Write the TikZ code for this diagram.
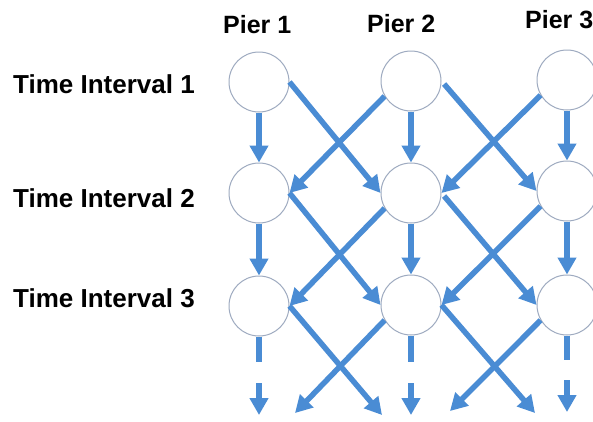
\documentclass[tikz,border=0pt]{standalone}
\usepackage{fontspec}
\setmainfont{Liberation Sans}
\usetikzlibrary{arrows.meta}
\definecolor{flowblue}{HTML}{4A8CD4}
\definecolor{ringgray}{HTML}{9EAAC0}
\tikzset{
  pier/.style={circle, draw=ringgray, line width=1pt, fill=white, minimum size=60pt, inner sep=0pt},
  flow/.style={draw=flowblue, line width=5.5pt, -{Triangle[width=18pt,length=17pt]}},
  stub/.style={draw=flowblue, line width=5.5pt},
  rowlabel/.style={anchor=base west, inner sep=0pt, font=\bfseries\fontsize{26}{28}\selectfont},
  collabel/.style={anchor=base west, inner sep=0pt, font=\bfseries\fontsize{25}{27}\selectfont}
}
\begin{document}
\begin{tikzpicture}[x=1pt, y=-1pt]
  \clip (0,0) rectangle (593,421);
  \fill[white] (0,0) rectangle (593,421);

  % column and row headings
  \node[collabel] (h1) at (223,33) {Pier 1};
  \node[collabel] (h2) at (367,32) {Pier 2};
  \node[collabel] (h3) at (525,28) {Pier 3};
  \node[rowlabel] (t1) at (13,93) {Time Interval 1};
  \node[rowlabel] (t2) at (13,207) {Time Interval 2};
  \node[rowlabel] (t3) at (13,307) {Time Interval 3};

  % piers per time interval
  \node[pier] (c11) at (259,82) {};
  \node[pier] (c12) at (411,81) {};
  \node[pier] (c13) at (567,80) {};
  \node[pier] (c21) at (259,193) {};
  \node[pier] (c22) at (411,193) {};
  \node[pier] (c23) at (567,191) {};
  \node[pier] (c31) at (259,306) {};
  \node[pier] (c32) at (411,305) {};
  \node[pier] (c33) at (567,305) {};

  % loose ends below the last interval
  \coordinate (s1) at (259,362);
  \coordinate (s2) at (411,362);
  \coordinate (s3) at (567,360);
  \coordinate (a1) at (259,383);
  \coordinate (a2) at (411,383);
  \coordinate (a3) at (567,380);
  \coordinate (e1) at (259,415);
  \coordinate (e2) at (411,415);
  \coordinate (e3) at (567,412);
  \coordinate (r1) at (382,415);
  \coordinate (r2) at (535,413);
  \coordinate (l1) at (295,413);
  \coordinate (l2) at (450,411);

  % staying at the same pier
  \draw[flow] (c11.south) -- (c21.north);
  \draw[flow] (c12.south) -- (c22.north);
  \draw[flow] (c13.south) -- (c23.north);
  \draw[flow] (c21.south) -- (c31.north);
  \draw[flow] (c22.south) -- (c32.north);
  \draw[flow] (c23.south) -- (c33.north);
  \draw[stub] (c31.south) -- (s1);
  \draw[stub] (c32.south) -- (s2);
  \draw[stub] (c33.south) -- (s3);
  \draw[flow] (a1) -- (e1);
  \draw[flow] (a2) -- (e2);
  \draw[flow] (a3) -- (e3);

  % moving to the next pier
  \draw[flow] (c11.east) -- (c22.west);
  \draw[flow, shorten <=4pt] (c12.east) -- (c23.west);
  \draw[flow] (c21.east) -- (c32.west);
  \draw[flow, shorten <=4pt] (c22.east) -- (c33.west);
  \draw[flow] (c31.east) -- (r1);
  \draw[flow] (c32.east) -- (r2);

  % moving to the previous pier
  \draw[flow] (c12.210) -- (c21.east);
  \draw[flow] (c13.210) -- (c22.east);
  \draw[flow] (c22.210) -- (c31.east);
  \draw[flow] (c23.210) -- (c32.east);
  \draw[flow] (c32.210) -- (l1);
  \draw[flow] (c33.210) -- (l2);
\end{tikzpicture}
\end{document}
